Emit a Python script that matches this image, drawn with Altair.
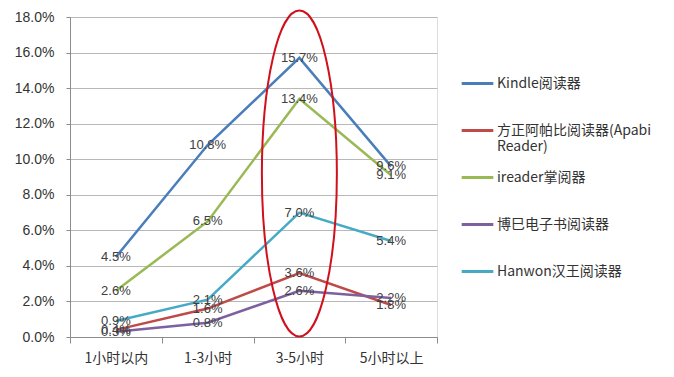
import altair as alt
import pandas as pd

categories = ["1小时以内", "1-3小时", "3-5小时", "5小时以上"]
series = ["Kindle阅读器", "方正阿帕比阅读器(Apabi Reader)", "ireader掌阅器", "博巳电子书阅读器", "Hanwon汉王阅读器"]
kindle = [4.5, 10.8, 15.7, 9.6]
apabi = [0.4, 1.6, 3.6, 1.8]
ireader = [2.6, 6.5, 13.4, 9.1]
boyue = [0.3, 0.8, 2.6, 2.2]
hanwon = [0.9, 2.1, 7.0, 5.4]
colors = ["#4A7EBB", "#BE4B48", "#98B954", "#7D60A0", "#46AAC5"]
y_ticks = [0, 2, 4, 6, 8, 10, 12, 14, 16, 18]

# annotation ellipse (centre of highlighted column)
highlight_cat = ["3-5小时"]
highlight_val = [9.2]

values = [kindle, apabi, ireader, boyue, hanwon]
rows = []
for s, vals in zip(series, values):
    for c, v in zip(categories, vals):
        rows.append({"cat": c, "series": s, "v": v})
df = pd.DataFrame(rows)
df_hl = pd.DataFrame({"cat": highlight_cat, "v": highlight_val})

FONT = "Liberation Sans, Noto Sans CJK SC, sans-serif"
CJK = "Noto Sans CJK SC, Liberation Sans, sans-serif"

xenc = alt.X("cat:N", sort=categories, bandPosition=0.5,
             scale=alt.Scale(type="band", paddingInner=0, paddingOuter=0, domain=categories),
             axis=alt.Axis(title=None, labelAngle=0, grid=False, tickBand="extent",
                           tickSize=6, labelPadding=8, labelFontSize=14, labelFont=CJK,
                           labelColor="#333333", domainColor="#8c8c8c", tickColor="#8c8c8c"))
yenc = alt.Y("v:Q", scale=alt.Scale(domain=[0, 18], nice=False, zero=True),
             axis=alt.Axis(title=None, values=y_ticks, tickCount=10, labelOverlap=False,
                           labelExpr="format(datum.value, '.1f') + '%'",
                           grid=True, gridColor="#b8b8b8", tickSize=4, labelPadding=12,
                           labelFontSize=14, labelFont=FONT, labelColor="#333333",
                           domainColor="#8c8c8c", tickColor="#8c8c8c"))

color = alt.Color("series:N", sort=series,
                  scale=alt.Scale(domain=series, range=colors),
                  legend=alt.Legend(title=None, orient="none", legendX=390, legendY=49,
                                    symbolType="stroke", symbolStrokeWidth=3, symbolSize=1000,
                                    labelFontSize=14, labelFont=CJK, labelColor="#333333",
                                    rowPadding=6, labelLimit=400, labelOffset=2,
                                    gridAlign="all",
                                    labelExpr="datum.label == '方正阿帕比阅读器(Apabi Reader)' ? ['方正阿帕比阅读器(Apabi', 'Reader)'] : datum.label"))

lines = alt.Chart(df).mark_line(strokeWidth=2.5).encode(x=xenc, y=yenc, color=color)

labels = alt.Chart(df).transform_calculate(
    lab="format(datum.v, '.1f') + '%'"
).mark_text(fontSize=13, font=FONT, color="#404040", align="center", baseline="middle").encode(
    x=xenc, y=yenc, text="lab:N")

k = 0.5523
a, b = 0.23, 1.0
path = (f"M 0 {-b} C {a*k} {-b} {a} {-b*k} {a} 0 C {a} {b*k} {a*k} {b} 0 {b} "
        f"C {-a*k} {b} {-a} {b*k} {-a} 0 C {-a} {-b*k} {-a*k} {-b} 0 {-b} Z")
ellipse = alt.Chart(df_hl).mark_point(shape=path, size=326 * 326, filled=False,
                                      stroke="#D0101B", strokeWidth=2, opacity=1).encode(
    x=xenc, y=yenc)

chart = alt.layer(lines, labels, ellipse).properties(
    width=367, height=320,
    autosize=alt.AutoSizeParams(type="none"),
    padding={"left": 62, "top": 9, "right": 229, "bottom": 32},
).configure_view(stroke=None).configure(background="white")

chart.save("out.html", embed_options={"renderer": "svg", "actions": False})
